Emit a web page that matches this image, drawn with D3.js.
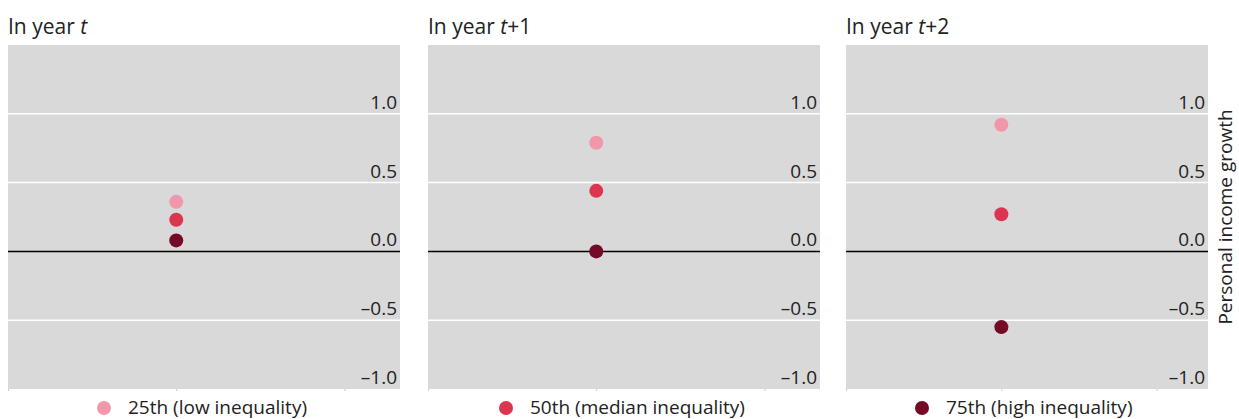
<!DOCTYPE html>
<html>
<head>
<meta charset="utf-8">
<script src="https://cdn.jsdelivr.net/npm/d3@7"></script>
<style>
  body { margin: 0; background: #fff; }
  text { font-family: "Open Sans", "Noto Sans", sans-serif; fill: #222; }
</style>
</head>
<body>
<svg id="chart" width="1239" height="419"></svg>
<script>
// data
var panels = ["t", "t+1", "t+2"];
var groups = ["25th (low inequality)", "50th (median inequality)", "75th (high inequality)"];
var colors = ["#F297AA", "#DC354F", "#740A25"];
var low = [0.36, 0.79, 0.92];
var median = [0.23, 0.44, 0.27];
var high = [0.08, 0.0, -0.55];
var yTicks = [-1.0, -0.5, 0.0, 0.5, 1.0];

var series = [low, median, high];

var svg = d3.select("#chart");

var plotTop = 45, plotBottom = 389;
var boxes = [[8, 400], [428, 820], [846, 1208]];

var y = d3.scaleLinear().domain([-1, 1.5]).range([plotBottom, plotTop]);
var fmt = function(d) { return d3.format(".1f")(d).replace("-", "\u2013").replace("\u2212", "\u2013"); };

for (var i = 0; i < panels.length; i++) {
	var x0 = boxes[i][0], x1 = boxes[i][1];
	var x = d3.scaleLinear().domain([0, 2.33]).range([x0, x1]);

	var g = svg.append("g").attr("class", "panel");

	g.append("rect")
		.attr("x", x0).attr("y", plotTop)
		.attr("width", x1 - x0).attr("height", plotBottom - plotTop)
		.attr("fill", "#D9D9D9");

	// faint x ticks under the panel
	g.append("g")
		.attr("transform", "translate(0," + plotBottom + ")")
		.call(d3.axisBottom(x).tickValues([0, 1, 2]).tickSize(2).tickFormat(""))
		.call(function(a) {
			a.select(".domain").remove();
			a.selectAll("line").attr("stroke", "#ccc");
		});

	// gridlines
	g.selectAll(".grid")
		.data(yTicks.filter(function(d) { return d != 0 && d != -1; }))
		.enter().append("line")
		.attr("x1", x0).attr("x2", x1)
		.attr("y1", function(d) { return y(d); })
		.attr("y2", function(d) { return y(d); })
		.attr("stroke", "#fff")
		.attr("stroke-width", 1.5);

	g.append("line")
		.attr("x1", x0).attr("x2", x1)
		.attr("y1", y(0)).attr("y2", y(0))
		.attr("stroke", "#000")
		.attr("stroke-width", 1.5);

	// tick labels, sitting just above the lines
	g.selectAll(".ylab")
		.data(yTicks)
		.enter().append("text")
		.attr("x", x1 - 3)
		.attr("y", function(d) { return y(d) - 5; })
		.attr("text-anchor", "end")
		.attr("font-size", "19px")
		.text(fmt);

	// title
	var title = g.append("text")
		.attr("x", x0)
		.attr("y", 34)
		.attr("font-size", "21px");
	title.append("tspan").text("In year ");
	title.append("tspan").attr("font-style", "italic").text("t");
	if (panels[i] != "t") {
		title.append("tspan").text(panels[i].slice(1));
	}

	// dots
	for (var s = 0; s < series.length; s++) {
		g.append("circle")
			.attr("cx", x(1))
			.attr("cy", y(series[s][i]))
			.attr("r", 7)
			.attr("fill", colors[s]);
	}
}

// y axis title
svg.append("text")
	.attr("transform", "translate(1232," + ((plotTop + plotBottom) / 2) + ") rotate(-90)")
	.attr("text-anchor", "middle")
	.attr("font-size", "19px")
	.text("Personal income growth");

// legend
var legX = [104, 506, 922];
var leg = svg.selectAll(".leg")
	.data(groups)
	.enter().append("g")
	.attr("transform", function(d, k) { return "translate(" + legX[k] + ",408)"; });
leg.append("circle")
	.attr("r", 7)
	.attr("fill", function(d, k) { return colors[k]; });
leg.append("text")
	.attr("x", 24)
	.attr("y", 6)
	.attr("font-size", "19px")
	.text(function(d) { return d; });
</script>
</body>
</html>
